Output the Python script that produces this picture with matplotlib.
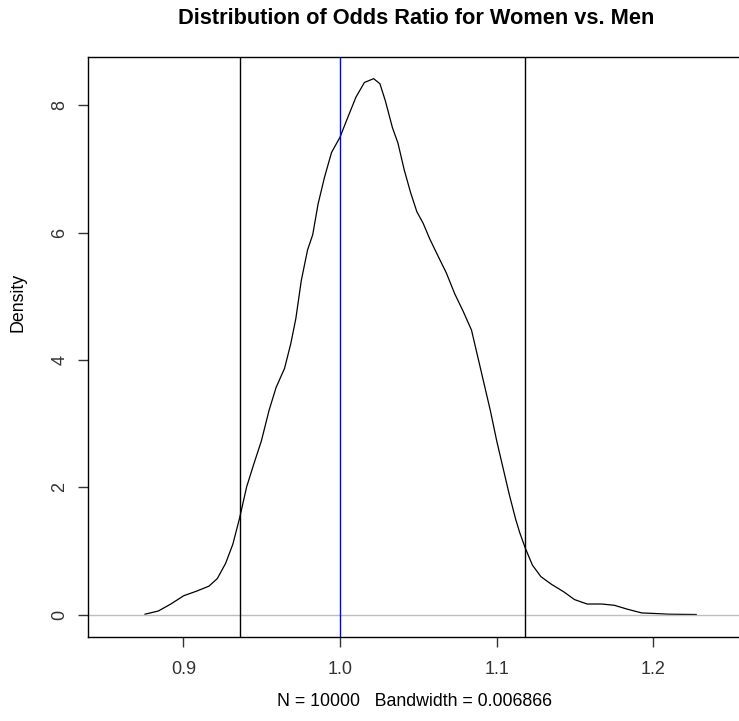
import matplotlib.pyplot as plt

# density curve of the odds ratio
odds_x = [0.8755, 0.884, 0.892, 0.9002, 0.9082, 0.9163, 0.9217, 0.927, 0.9316, 0.9359,
          0.9404, 0.945, 0.9498, 0.9547, 0.9592, 0.9646, 0.9686, 0.9718, 0.9753, 0.9793,
          0.9826, 0.986, 0.9901, 0.9946, 1.0, 1.0048, 1.0102, 1.0156, 1.0215, 1.0255,
          1.029, 1.0335, 1.037, 1.041, 1.0451, 1.0491, 1.0531, 1.0572, 1.0625, 1.0679,
          1.0733, 1.0786, 1.084, 1.088, 1.092, 1.096, 1.1001, 1.1041, 1.1081, 1.1122,
          1.1148, 1.1183, 1.1229, 1.1283, 1.135, 1.143, 1.1497, 1.1578, 1.1672, 1.1752,
          1.1833, 1.1927, 1.202, 1.2101, 1.2275]
density = [0.01, 0.06, 0.17, 0.30, 0.37, 0.45, 0.57, 0.81, 1.11, 1.52,
           2.01, 2.37, 2.73, 3.21, 3.57, 3.87, 4.26, 4.65, 5.25, 5.73,
           5.97, 6.45, 6.87, 7.26, 7.50, 7.80, 8.13, 8.36, 8.42, 8.34,
           8.07, 7.65, 7.41, 6.99, 6.63, 6.33, 6.15, 5.91, 5.64, 5.37,
           5.04, 4.77, 4.47, 4.05, 3.63, 3.21, 2.73, 2.31, 1.89, 1.50,
           1.29, 1.05, 0.78, 0.60, 0.48, 0.36, 0.24, 0.17, 0.17, 0.15,
           0.09, 0.03, 0.02, 0.01, 0.005]
ci_bounds = [0.9359, 1.1183]
ref_value = 1.0
xticks = [0.9, 1.0, 1.1, 1.2]
yticks = [0, 2, 4, 6, 8]

plt.rcParams['font.family'] = 'Liberation Sans'
fig = plt.figure(figsize=(7.39, 7.21), dpi=100)
ax = fig.add_axes([88/739, 1-637/721, 651/739, 580/721])

ax.plot(odds_x, density, color='black', lw=0.9)
ax.axhline(0, color='#BEBEBE', lw=1.0)
for b in ci_bounds:
    ax.axvline(b, color='black', lw=1.0)
ax.axvline(ref_value, color='blue', lw=1.0)

ax.set_xlim(0.8391, 1.2548)
ax.set_ylim(-0.348, 8.76)
ax.spines['right'].set_visible(False)
for s in ax.spines.values():
    s.set_linewidth(1.0)

ax.set_xticks(xticks)
ax.set_xticklabels(['0.9', '1.0', '1.1', '1.2'])
ax.set_yticks(yticks)
ax.set_yticklabels([str(v) for v in yticks], rotation=90, va='center')
ax.tick_params(length=7, width=1.0, labelsize=13, colors='#333333', pad=7)
ax.tick_params(axis='x', pad=10)

fig.text(416/739, 1-19/721, 'Distribution of Odds Ratio for Women vs. Men',
         ha='center', va='center', fontsize=15.7, fontweight='bold')
fig.text(414/739, 1-701/721, 'N = 10000   Bandwidth = 0.006866',
         ha='center', va='center', fontsize=12.8)
fig.text(18/739, 1-302/721, 'Density', rotation=90,
         ha='center', va='center', fontsize=12.8)

plt.savefig('out.png')
